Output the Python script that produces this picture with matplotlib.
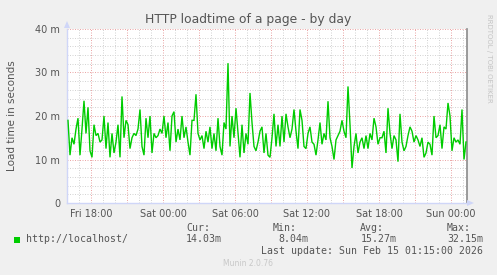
import matplotlib
matplotlib.use("Agg")
import matplotlib.pyplot as plt
import matplotlib.dates as mdates
from matplotlib.ticker import FuncFormatter, MultipleLocator
from matplotlib.patches import Polygon, Rectangle
import pandas as pd

# ---------------- data ----------------
start_time = "2026-02-13 16:05"
sample_step = "10min"
loadtime_ms = [
    19, 11, 15, 13.5, 17, 19.5, 11, 17, 23.5, 16,
    22, 12, 10.5, 18, 15.5, 16, 14, 14.5, 20, 12.5,
    18.5, 10.5, 16, 11.5, 14, 18, 10.5, 24.5, 15,
    19, 18, 12.5, 15, 16, 15.5, 17, 21.5, 13, 11,
    19.5, 15, 20, 11.5, 16, 15, 15.5, 17, 16, 20,
    15, 18.5, 12, 20, 21, 14, 17, 14.5, 20,
    15, 17.5, 14, 11, 19, 19, 25, 16, 14.5, 15.5,
    12.5, 16.5, 14, 17.5, 12.5, 16, 12, 19.5, 13, 11,
    18.5, 17, 32.15, 13, 20, 15, 21.8, 16, 10.5,
    18, 11.5, 16, 13.5, 25.3, 18.5, 13, 12, 14, 16.5,
    17.5, 11.5, 16, 11, 10.5, 15, 20.5, 13, 18, 13,
    20, 14, 20.5, 17.5, 15, 17, 21.5, 16.5, 12.5,
    21.5, 19, 13, 12.5, 16, 17.5, 14, 13.5, 11, 14.5,
    18.5, 13.5, 16, 14.5, 23.4, 15, 13, 10, 14.5, 15.5,
    16.5, 19, 16.5, 15, 26.8, 18, 8.04, 13, 16,
    11.5, 14, 15, 12.5, 15.5, 12.5, 16, 14.5, 19.5, 17.5,
    13.5, 15, 15, 16.5, 11.5, 21.8, 16, 12.5, 15.5, 14.5,
    9.5, 20.5, 14, 12, 13, 15.5, 17.5, 16.5, 14,
    15.5, 14.5, 13, 15, 10.5, 11.5, 14, 13.5, 11, 20,
    15, 15.5, 18, 12.5, 17.5, 17, 23, 20, 12, 15,
    14, 14.5, 13.5, 21.5, 10, 14.03,
]
x_range = ["2026-02-13 16:00", "2026-02-15 01:20"]
y_ticks = [0, 10, 20, 30, 40]
y_tick_labels = ["0", "10 m", "20 m", "30 m", "40 m"]
series_label = "http://localhost/"
stat_headers = ["Cur:", "Min:", "Avg:", "Max:"]
stat_values = ["14.03m", "8.04m", "15.27m", "32.15m"]
title = "HTTP loadtime of a page - by day"
y_label = "Load time in seconds"
last_update = "Last update: Sun Feb 15 01:15:00 2026"
footer = "Munin 2.0.76"
watermark = "RRDTOOL / TOBI OETIKER"

times = pd.date_range(start_time, periods=len(loadtime_ms), freq=sample_step)

# ---------------- figure ----------------
W, H = 497, 275
fig = plt.figure(figsize=(W / 100, H / 100), dpi=100, facecolor="#F0F0F0")

def fx(px):
    return px / W

def fy(py):
    return 1 - py / H

L, R, T, B = 67, 467, 29, 203
ax = fig.add_axes([fx(L), fy(B), fx(R) - fx(L), fy(T) - fy(B)])
ax.set_facecolor("#FFFFFF")

TXT = "#555555"
AXC = "#CFD6F8"

ax.plot(times, loadtime_ms, color="#00CC00", lw=1.0, zorder=3,
        solid_joinstyle="miter")

ax.set_xlim(pd.Timestamp(x_range[0]), pd.Timestamp(x_range[1]))
ax.set_ylim(y_ticks[0], y_ticks[-1])

ax.xaxis.set_major_locator(mdates.HourLocator(byhour=range(0, 24, 3)))
ax.xaxis.set_minor_locator(mdates.HourLocator())

def xfmt(x, pos):
    d = mdates.num2date(x)
    return d.strftime("%a %H:%M") if d.hour % 6 == 0 else ""

ax.xaxis.set_major_formatter(FuncFormatter(xfmt))
ax.set_yticks(y_ticks)
ax.set_yticklabels(y_tick_labels)
ax.yaxis.set_minor_locator(MultipleLocator(2))

ax.grid(which="minor", color="#D4D4D4", lw=0.72, linestyle=(0, (1, 1.5)))
ax.grid(which="major", color="#EBA8A8", lw=0.72, linestyle=(0, (1, 1.5)))
ax.set_axisbelow(True)

ax.tick_params(which="both", length=0)
ax.tick_params(axis="x", pad=4.5, labelsize=7, labelcolor=TXT)
ax.tick_params(axis="y", pad=5, labelsize=7, labelcolor=TXT)

for s in ["top"]:
    ax.spines[s].set_visible(False)
ax.spines["left"].set_color(AXC)
ax.spines["bottom"].set_color(AXC)
ax.spines["left"].set_linewidth(1.0)
ax.spines["bottom"].set_linewidth(1.0)
ax.spines["right"].set_color("#8A8A8A")
ax.spines["right"].set_linewidth(1.2)

# arrows
fig.add_artist(Polygon([[fx(64), fy(28)], [fx(70), fy(28)], [fx(67), fy(21)]],
                       closed=True, transform=fig.transFigure, color=AXC, lw=0))
fig.add_artist(Polygon([[fx(467), fy(200)], [fx(467), fy(206)], [fx(474), fy(203)]],
                       closed=True, transform=fig.transFigure, color=AXC, lw=0))

# texts
fig.text(fx(248), fy(19), title, ha="center", va="center", fontsize=8.9, color=TXT)
fig.text(fx(12), fy(116), y_label, ha="center", va="center", rotation=90,
         fontsize=7.5, color=TXT)
fig.text(fx(489), fy(14), watermark, ha="center", va="top", rotation=270,
         fontsize=5, color="#C4C4C4")

MONO = "DejaVu Sans Mono"
MS = 7.1
fig.add_artist(Rectangle((fx(14), fy(242.5)), fx(6), 6 / H, transform=fig.transFigure,
                         color="#00CC00", lw=0))
fig.text(fx(26), fy(239.5), series_label, family=MONO, fontsize=MS, color=TXT,
         ha="left", va="center")
hdr_x = [186, 273, 360, 447]
val_x = [186, 278, 361, 447]
for h, v, hx, vx in zip(stat_headers, stat_values, hdr_x, val_x):
    fig.text(fx(hx), fy(228), h, family=MONO, fontsize=MS, color=TXT, ha="left", va="center")
    fig.text(fx(vx), fy(239.5), v, family=MONO, fontsize=MS, color=TXT, ha="left", va="center")
fig.text(fx(483), fy(251.5), last_update, family=MONO, fontsize=MS, color=TXT,
         ha="right", va="center")
fig.text(fx(248), fy(264), footer, ha="center", va="center", fontsize=5.5, color="#C8C8C8")

fig.savefig("out.png", dpi=100, facecolor=fig.get_facecolor())
